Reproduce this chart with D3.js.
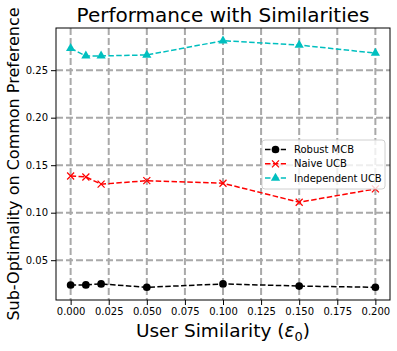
<html>
<head>
  <style>
    body { margin: 0; background: #fff; }
    text { font-family: "DejaVu Sans", sans-serif; }
  </style>
</head>
<body>
  <svg width="397" height="351"></svg>
  <script src="https://d3js.org/d3.v7.min.js"></script>
  <script>

  var similarity = [0.0, 0.01, 0.02, 0.05, 0.1, 0.15, 0.2];
  var robust_mcb = [0.0239, 0.024, 0.025, 0.0215, 0.025, 0.0228, 0.0215];
  var naive_ucb = [0.1386, 0.1376, 0.130, 0.1337, 0.131, 0.111, 0.125];
  var independent_ucb = [0.273, 0.265, 0.265, 0.266, 0.281, 0.2765, 0.268];
  var x_ticks = [0, 0.025, 0.05, 0.075, 0.1, 0.125, 0.15, 0.175, 0.2];
  var y_ticks = [0.05, 0.10, 0.15, 0.20, 0.25];

  var series = [
    {name: "Robust MCB", values: robust_mcb, color: "#000000", marker: "circle"},
    {name: "Naive UCB", values: naive_ucb, color: "#ff0000", marker: "x"},
    {name: "Independent UCB", values: independent_ucb, color: "#00bfbf", marker: "triangle"}
  ];

  var svg = d3.select("svg");
  var pLeft = 56, pRight = 390, pTop = 28, pBottom = 300;

  var X = d3.scaleLinear().domain([-0.0096, 0.2096]).range([pLeft, pRight]);
  var Y = d3.scaleLinear().domain([0.0081, 0.2944]).range([pBottom, pTop]);

  // grid
  var grid = svg.append("g");
  grid.selectAll("line.gx").data(x_ticks).enter().append("line")
    .attr("x1", d => X(d)).attr("x2", d => X(d))
    .attr("y1", pTop).attr("y2", pBottom)
    .attr("stroke", "#a9a9a9").attr("stroke-width", 2)
    .attr("stroke-dasharray", "7,3");
  grid.selectAll("line.gy").data(y_ticks).enter().append("line")
    .attr("y1", d => Y(d)).attr("y2", d => Y(d))
    .attr("x1", pLeft).attr("x2", pRight)
    .attr("stroke", "#a9a9a9").attr("stroke-width", 2)
    .attr("stroke-dasharray", "7,3");

  // axes
  var xAxis = d3.axisBottom(X).tickValues(x_ticks).tickFormat(d3.format(".3f")).tickSize(5).tickPadding(3);
  var yAxis = d3.axisLeft(Y).tickValues(y_ticks).tickFormat(d3.format(".2f")).tickSize(5).tickPadding(3);
  svg.append("g").attr("transform", "translate(0," + pBottom + ")").call(xAxis)
    .call(g => g.select(".domain").remove())
    .selectAll("text").style("font-size", "10px").style("font-family", "DejaVu Sans").attr("fill", "#000");
  svg.append("g").attr("transform", "translate(" + pLeft + ",0)").call(yAxis)
    .call(g => g.select(".domain").remove())
    .selectAll("text").style("font-size", "10px").style("font-family", "DejaVu Sans").attr("fill", "#000");

  // lines + markers
  function drawMarker(g, type, color, size) {
    if (type === "circle") {
      g.append("circle").attr("r", size * 0.55).attr("fill", color);
    } else if (type === "x") {
      var s = size * 0.5;
      g.append("path").attr("d", "M" + (-s) + "," + (-s) + "L" + s + "," + s + "M" + (-s) + "," + s + "L" + s + "," + (-s))
        .attr("stroke", color).attr("stroke-width", 1.2).attr("fill", "none");
    } else {
      g.append("path").attr("d", d3.symbol(d3.symbolTriangle, size * size * 0.75)())
        .attr("fill", color);
    }
  }

  var line = d3.line().x((d, i) => X(similarity[i])).y(d => Y(d));
  series.forEach(function(s) {
    svg.append("path").datum(s.values)
      .attr("d", line)
      .attr("fill", "none")
      .attr("stroke", s.color)
      .attr("stroke-width", 1.5)
      .attr("stroke-dasharray", "5.5,2.4");
    s.values.forEach(function(v, i) {
      var g = svg.append("g").attr("transform", "translate(" + X(similarity[i]) + "," + Y(v) + ")");
      drawMarker(g, s.marker, s.color, 7);
    });
  });

  // frame
  svg.append("rect").attr("x", pLeft).attr("y", pTop)
    .attr("width", pRight - pLeft).attr("height", pBottom - pTop)
    .attr("fill", "none").attr("stroke", "#000").attr("stroke-width", 1);

  // legend
  var lg = svg.append("g").attr("transform", "translate(262,140)");
  lg.append("rect").attr("width", 123).attr("height", 49).attr("rx", 3)
    .attr("fill", "#fff").attr("fill-opacity", 0.8).attr("stroke", "#d0d0d0");
  series.forEach(function(s, i) {
    var yy = 9.5 + i * 14.3;
    lg.append("line").attr("x1", 3).attr("x2", 24).attr("y1", yy).attr("y2", yy)
      .attr("stroke", s.color).attr("stroke-width", 1.5).attr("stroke-dasharray", "5.5,2.4");
    var m = lg.append("g").attr("transform", "translate(13.5," + yy + ")");
    drawMarker(m, s.marker, s.color, 7);
    lg.append("text").attr("x", 32).attr("y", yy + 3.6).text(s.name)
      .style("font-size", "10px");
  });

  // titles
  svg.append("text").attr("x", (pLeft + pRight) / 2).attr("y", 22)
    .attr("text-anchor", "middle").style("font-size", "20px").text("Performance with Similarities");

  var xl = svg.append("text").attr("x", (pLeft + pRight) / 2).attr("y", 337)
    .attr("text-anchor", "middle").style("font-size", "18.5px");
  xl.append("tspan").text("User Similarity (");
  xl.append("tspan").style("font-style", "italic").text("\u03b5");
  xl.append("tspan").attr("dy", 4).style("font-size", "13px").text("0");
  xl.append("tspan").attr("dy", -4).text(")");

  svg.append("text").attr("transform", "translate(19," + ((pTop + pBottom) / 2) + ") rotate(-90)")
    .attr("text-anchor", "middle").style("font-size", "16px").text("Sub-Optimality on Common Preference");

  </script>
</body>
</html>
